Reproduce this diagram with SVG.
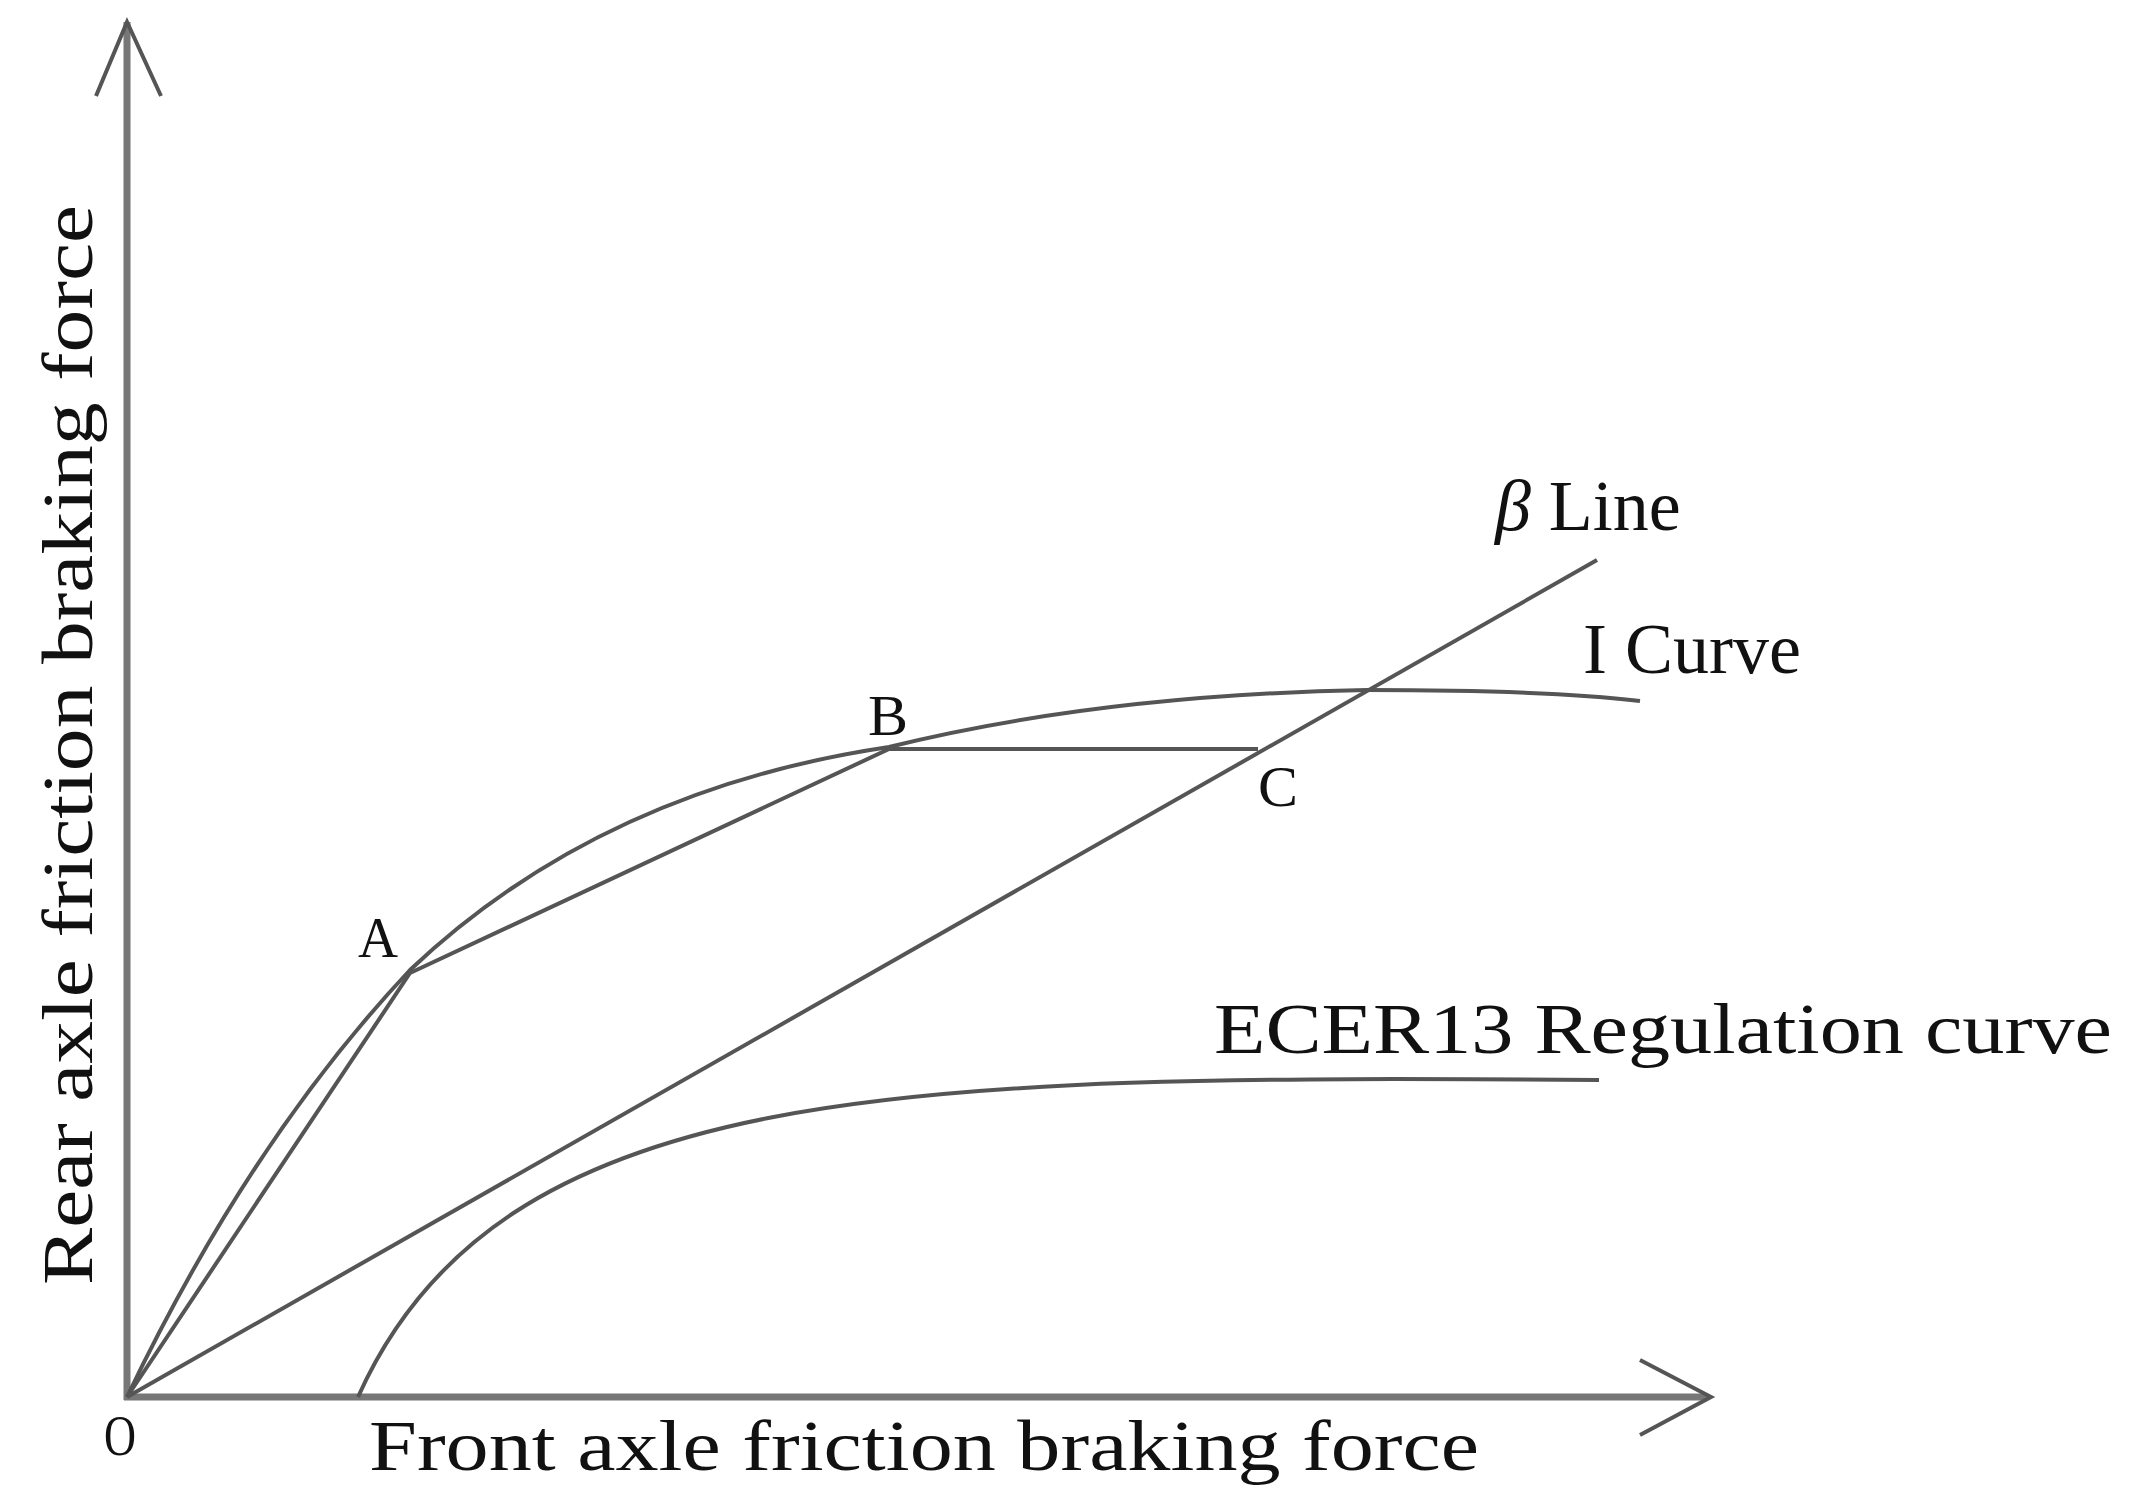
<svg xmlns="http://www.w3.org/2000/svg" width="2132" height="1505" viewBox="0 0 2132 1505">
<style>
.ax{stroke:#777;stroke-width:7;fill:none}
.cv{stroke:#555;stroke-width:4;fill:none}
.t{font-family:"Liberation Serif",serif;fill:#111}
</style>
<rect width="2132" height="1505" fill="#fff"/>
<g id="axes">
<line class="ax" x1="127" y1="1400" x2="127" y2="22"/>
<polyline class="cv" points="96,96 127,22 161,96"/>
<line class="ax" x1="124" y1="1397" x2="1708" y2="1397"/>
<polyline class="cv" points="1640,1360 1711,1397 1640,1435"/>
</g>
<g id="connectors">
<path id="i-curve" class="cv" d="M127 1397 Q 250 1140 410 970 Q 600 790 889 747 Q 1100 695 1367 690 Q 1550 690 1640 701"/>
<polyline id="strategy" class="cv" points="127,1397 410,973 889,749 1258,749"/>
<line id="beta" class="cv" x1="127" y1="1397" x2="1597" y2="560"/>
<path id="ecer" class="cv" d="M358,1397 C 500,1080 900,1075 1599,1080"/>
</g>
<g id="labels">
<text class="t" x="104" y="1455" font-size="58" textLength="32" lengthAdjust="spacingAndGlyphs">O</text>
<text class="t" x="358" y="957" font-size="58" textLength="40" lengthAdjust="spacingAndGlyphs">A</text>
<text class="t" x="868" y="735" font-size="58" textLength="40" lengthAdjust="spacingAndGlyphs">B</text>
<text class="t" x="1258" y="806" font-size="58" textLength="40" lengthAdjust="spacingAndGlyphs">C</text>
<text class="t" x="1495" y="530" font-size="72"><tspan font-style="italic">β</tspan> Line</text>
<text class="t" x="1583" y="673" font-size="72">I Curve</text>
<text class="t" x="1214" y="1053" font-size="72" textLength="898" lengthAdjust="spacingAndGlyphs">ECER13 Regulation curve</text>
<text class="t" x="369" y="1470" font-size="72" textLength="1110" lengthAdjust="spacingAndGlyphs">Front axle friction braking force</text>
<text class="t" font-size="72" textLength="1080" lengthAdjust="spacingAndGlyphs" transform="translate(92,1285) rotate(-90)">Rear axle friction braking force</text>
</g>
</svg>
